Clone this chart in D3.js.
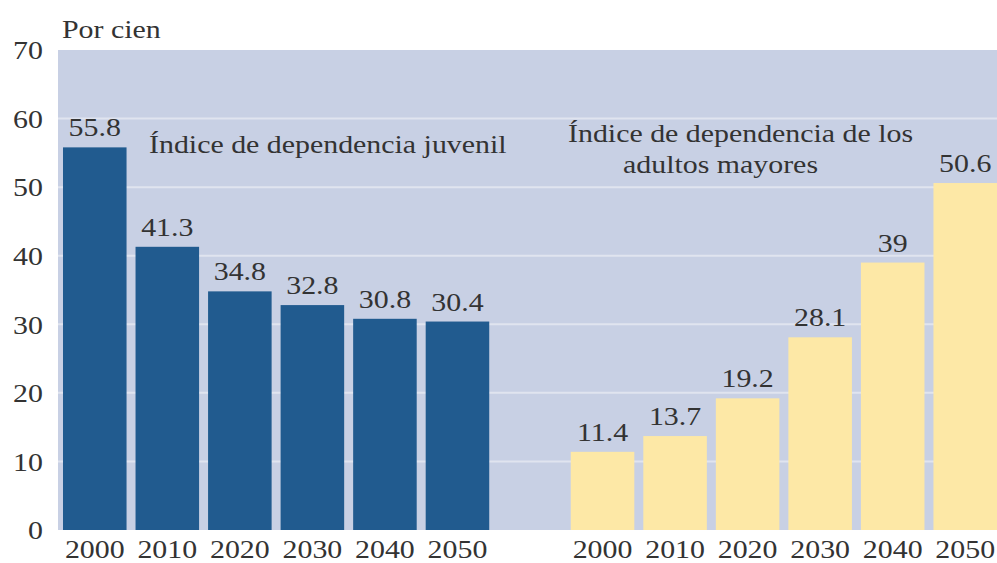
<!DOCTYPE html>
<html>
<head>
<meta charset="utf-8">
<script src="https://cdn.jsdelivr.net/npm/d3@7"></script>
</head>
<body style="margin:0; background:#fff">
<div class="chart"></div>
<script>
// data
var years = ["2000", "2010", "2020", "2030", "2040", "2050"];
var youthValues = [55.8, 41.3, 34.8, 32.8, 30.8, 30.4];
var elderValues = [11.4, 13.7, 19.2, 28.1, 39, 50.6];
var youthLabels = ["55.8", "41.3", "34.8", "32.8", "30.8", "30.4"];
var elderLabels = ["11.4", "13.7", "19.2", "28.1", "39", "50.6"];
var yTicks = [0, 10, 20, 30, 40, 50, 60, 70];

var svgWidth = 997;
var svgHeight = 563;

var margin = { top: 50, right: 0, bottom: 33, left: 58 };
var height = svgHeight - margin.top - margin.bottom;

var font = "'Liberation Serif', 'Times New Roman', serif";
var ink = "#333";
var fs = 26;
var sx = 1.15; // the type in the original is a bit wide

var svg = d3.select(".chart")
  .append("svg")
  .attr("width", svgWidth)
  .attr("height", svgHeight);

// one slot per bar plus an empty slot between the two groups
var rows = [];
years.forEach(function(y, i) {
  rows.push({ key: "j" + y, year: y, value: youthValues[i], label: youthLabels[i], color: "#215b8f" });
});
rows.push({ key: "gap", year: "", value: null });
years.forEach(function(y, i) {
  rows.push({ key: "m" + y, year: y, value: elderValues[i], label: elderLabels[i], color: "#fde8a6" });
});
var bars = rows.filter(d => d.value !== null);

var x = d3.scaleBand()
  .domain(rows.map(d => d.key))
  .range([margin.left + 0.5, 1001.5])
  .paddingInner(0.124)
  .paddingOuter(0.062);

var y = d3.scaleLinear()
  .domain([0, 70])
  .range([margin.top + height, margin.top]);

function label(sel, tx, ty) {
  sel.style("font-family", font)
    .attr("font-size", fs)
    .attr("fill", ink)
    .attr("transform", (d, i) => `translate(${tx(d, i)},${ty(d, i)}) scale(${sx},1)`);
}

// plot background
svg.append("rect")
  .attr("x", margin.left)
  .attr("y", y(70))
  .attr("width", svgWidth - margin.left)
  .attr("height", y(0) - y(70))
  .attr("fill", "#c8d0e4");

// gridlines
svg.append("g")
  .selectAll("line")
  .data(yTicks.filter(t => t > 0 && t < 70))
  .enter()
  .append("line")
  .attr("x1", margin.left)
  .attr("x2", svgWidth)
  .attr("y1", d => y(d))
  .attr("y2", d => y(d))
  .attr("stroke", "#e0e4ef")
  .attr("stroke-width", 2);

// y axis labels
var leftAxis = d3.axisLeft(y).tickValues(yTicks).tickSize(0).tickPadding(0);
var yAxis = svg.append("g")
  .attr("transform", `translate(${margin.left},0)`)
  .call(leftAxis);
yAxis.select(".domain").remove();
yAxis.selectAll("text")
  .attr("x", null)
  .attr("dy", "0.34em")
  .attr("text-anchor", "end")
  .call(label, () => -15, () => 0);

// bars
svg.append("g")
  .selectAll("rect")
  .data(bars)
  .enter()
  .append("rect")
  .attr("x", d => x(d.key))
  .attr("y", d => y(d.value))
  .attr("width", x.bandwidth())
  .attr("height", d => y(0) - y(d.value))
  .attr("fill", d => d.color);

// value labels
svg.append("g")
  .selectAll("text")
  .data(bars)
  .enter()
  .append("text")
  .attr("text-anchor", "middle")
  .call(label, d => x(d.key) + x.bandwidth() / 2, d => y(d.value) - 11)
  .text(d => d.label);

// year labels
svg.append("g")
  .selectAll("text")
  .data(bars)
  .enter()
  .append("text")
  .attr("text-anchor", "middle")
  .call(label, d => x(d.key) + x.bandwidth() / 2, () => 558)
  .text(d => d.year);

// unit label and group titles
var notes = [
  { t: "Por cien", x: 62, y: 38 },
  { t: "Índice de dependencia juvenil", x: 149, y: 153 },
  { t: "Índice de dependencia de los", x: 568, y: 142 },
  { t: "adultos mayores", x: 623, y: 173 }
];
svg.append("g")
  .selectAll("text")
  .data(notes)
  .enter()
  .append("text")
  .call(label, d => d.x, d => d.y)
  .text(d => d.t);
</script>
</body>
</html>
